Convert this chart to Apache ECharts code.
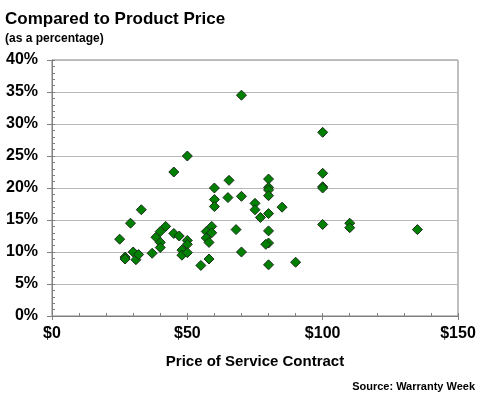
<!DOCTYPE html>
<html>
<head>
<meta charset="utf-8">
<script src="https://cdn.jsdelivr.net/npm/echarts@6/dist/echarts.min.js"></script>
<style>html,body{margin:0;padding:0;background:#fff}#c{width:480px;height:400px}</style>
</head>
<body>
<div id="c"></div>
<script>
// Price of service contract ($)
var prices = [25, 27, 27, 29, 30, 31, 32, 33, 37, 38.4, 40, 40, 40, 42, 45, 45, 47, 48, 48, 50, 50, 50, 50, 55, 57, 57, 58, 58, 59, 59, 60, 60, 60, 65, 65.4, 68, 70, 70, 70, 75, 75, 77, 80, 80, 80, 80, 80, 80, 80, 79, 80, 85, 90, 100, 100, 100, 100, 100, 110, 110, 135];
// Compared to product price (%)
var percents = [12.0, 9.2, 8.9, 14.5, 10.0, 8.8, 9.6, 16.6, 9.8, 12.3, 13.2, 11.5, 10.7, 14.0, 22.5, 12.9, 12.5, 10.3, 9.5, 11.8, 11.2, 9.9, 25.0, 7.9, 13.2, 12.2, 11.5, 8.9, 14.0, 13.0, 20.0, 18.2, 17.1, 18.5, 21.2, 13.5, 34.5, 18.7, 10.0, 17.6, 16.6, 15.4, 21.4, 20.1, 19.7, 18.8, 16.0, 13.3, 11.4, 11.2, 8.0, 17.0, 8.4, 28.7, 22.3, 20.2, 20.0, 14.3, 14.5, 13.8, 13.5];
var xTicks = [0, 50, 100, 150];
var yTicks = [0, 5, 10, 15, 20, 25, 30, 35, 40];

var pts = prices.map(function (p, i) { return [p, percents[i]]; });
var font = '"Liberation Sans", Arial, sans-serif';
var chart = echarts.init(document.getElementById('c'), null, {renderer: 'canvas'});
chart.setOption({
  animation: false,
  backgroundColor: '#ffffff',
  title: [
    {text: 'Compared to Product Price', left: 0, top: 6,
     textStyle: {fontFamily: font, fontWeight: 'bold', fontSize: 17, color: '#000'}},
    {text: '(as a percentage)', left: 0, top: 28,
     textStyle: {fontFamily: font, fontWeight: 'bold', fontSize: 12, color: '#000'}},
    {text: 'Source: Warranty Week', right: 0, top: 376,
     textStyle: {fontFamily: font, fontWeight: 'bold', fontSize: 11, color: '#000'}}
  ],
  grid: {left: 52, right: 22, top: 60, bottom: 84, show: true, borderColor: '#808080', borderWidth: 1, backgroundColor: 'transparent'},
  xAxis: [{
    type: 'value', min: xTicks[0], max: xTicks[xTicks.length - 1], interval: 50,
    name: 'Price of Service Contract', nameLocation: 'middle', nameGap: 38,
    nameTextStyle: {fontFamily: font, fontWeight: 'bold', fontSize: 15, color: '#000'},
    axisLine: {show: true, lineStyle: {color: '#808080', width: 1}},
    axisTick: {show: true, inside: false, length: 4, lineStyle: {color: '#808080'}},
    axisLabel: {fontFamily: font, fontWeight: 'bold', fontSize: 16, color: '#000', margin: 10,
      formatter: function (v) { return '$' + v; }},
    splitLine: {show: false}
  }, {
    type: 'value', min: 0, max: 150, interval: 10, position: 'bottom',
    axisLine: {show: false}, axisLabel: {show: false}, splitLine: {show: false},
    axisTick: {show: true, inside: true, length: 3, lineStyle: {color: '#808080'}}
  }],
  yAxis: [{
    type: 'value', min: yTicks[0], max: yTicks[yTicks.length - 1], interval: 5,
    axisLine: {show: true, lineStyle: {color: '#808080', width: 1}},
    axisTick: {show: true, inside: false, length: 5, lineStyle: {color: '#808080'}},
    axisLabel: {fontFamily: font, fontWeight: 'bold', fontSize: 16, color: '#000', margin: 14,
      formatter: function (v) { return v + '%'; }},
    splitLine: {show: true, lineStyle: {color: '#b8b8b8', width: 1}}
  }, {
    type: 'value', min: 0, max: 40, interval: 1, position: 'left',
    axisLine: {show: false}, axisLabel: {show: false}, splitLine: {show: false},
    axisTick: {show: true, inside: true, length: 3, lineStyle: {color: '#808080'}}
  }],
  series: [{
    type: 'scatter', xAxisIndex: 0, yAxisIndex: 0,
    symbol: 'diamond', symbolSize: [10, 10],
    itemStyle: {color: '#008000', borderColor: '#1c2e1c', borderWidth: 1, opacity: 1},
    data: pts
  }]
});
</script>
</body>
</html>
